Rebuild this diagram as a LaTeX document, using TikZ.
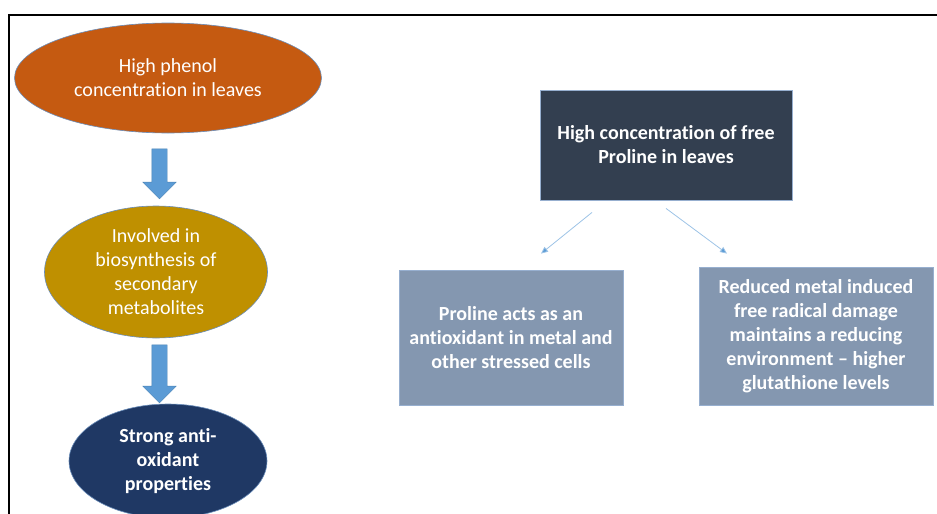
\documentclass[tikz,border=0pt]{standalone}
\usepackage{fontspec}
\setmainfont[Ligatures=NoCommon]{Carlito}
\usepackage{tikz}
\usetikzlibrary{arrows.meta, positioning, shapes.geometric, shapes.arrows, calc}

\definecolor{phenolorange}{HTML}{C55A11}
\definecolor{metagold}{HTML}{BF9000}
\definecolor{oxnavy}{HTML}{1F3864}
\definecolor{prolinedark}{HTML}{333F50}
\definecolor{effectgray}{HTML}{8497B0}
\definecolor{arrowblue}{HTML}{5B9BD5}
\definecolor{thinblue}{HTML}{9DC3E6}
\definecolor{edgeblue}{HTML}{6A8DBA}

\begin{document}
\begin{tikzpicture}[
  x=1pt, y=-1pt,
  txt/.style={align=center, text=white, font=\fontsize{20}{24}\selectfont},
  oval/.style={ellipse, txt, draw=edgeblue, line width=0.6pt, inner sep=0pt},
  card/.style={rectangle, txt, font=\fontsize{20}{24}\selectfont\bfseries, draw=edgeblue!70!white, line width=0.8pt},
  downarr/.style={single arrow, fill=arrowblue, draw=arrowblue!85!black, line width=0.4pt,
    shape border rotate=270, minimum width=33pt, single arrow head extend=9pt,
    single arrow head indent=0pt, inner xsep=7.5pt, inner ysep=0pt},
  thinarr/.style={draw=thinblue, line width=0.8pt, -{Triangle[length=7pt, width=6pt, fill=arrowblue]}},
]
\useasboundingbox (0,0) rectangle (937,514);

% Rahmen
\draw[line width=2pt] (937,15) -- (9,15) -- (9,514);

% linke Spalte
\node[oval, fill=phenolorange, minimum width=307pt, minimum height=110pt] (phenol) at (168,78)
  {High phenol\\concentration in leaves};
\node[oval, fill=metagold, minimum width=223pt, minimum height=132pt] (biosyn) at (156,272)
  {Involved in\\biosynthesis of\\secondary\\metabolites};
\node[oval, fill=oxnavy, minimum width=198pt, minimum height=114pt,
      font=\fontsize{20}{24}\selectfont\bfseries] (antiox) at (168,461)
  {Strong anti-\\oxidant\\properties};

\node[downarr, minimum height=50pt] (a1) at (159.5,170) {};
\node[downarr, minimum height=58pt] (a2) at (159.5,370) {};

% rechte Seite
\node[card, fill=prolinedark, minimum width=252pt, minimum height=110pt] (proline) at (666,145)
  {High concentration of free\\Proline in leaves};
\node[card, fill=effectgray, minimum width=224pt, minimum height=135pt] (acts) at (511,337.5)
  {Proline acts as an\\antioxidant in metal and\\other stressed cells};
\node[card, fill=effectgray, minimum width=234pt, minimum height=138pt] (reduced) at (816,336)
  {Reduced metal induced\\free radical damage\\maintains a reducing\\environment -- higher\\glutathione levels};

% duenne Pfeile
\coordinate (s1) at ($(proline.south)+(-74,12)$);
\coordinate (t1) at ($(acts.north)+(30,-16)$);
\coordinate (s2) at ($(proline.south)+(0,8)$);
\coordinate (t2) at ($(reduced.north)+(-89,-13)$);
\draw[thinarr] (s1) -- (t1);
\draw[thinarr] (s2) -- (t2);

\end{tikzpicture}
\end{document}
